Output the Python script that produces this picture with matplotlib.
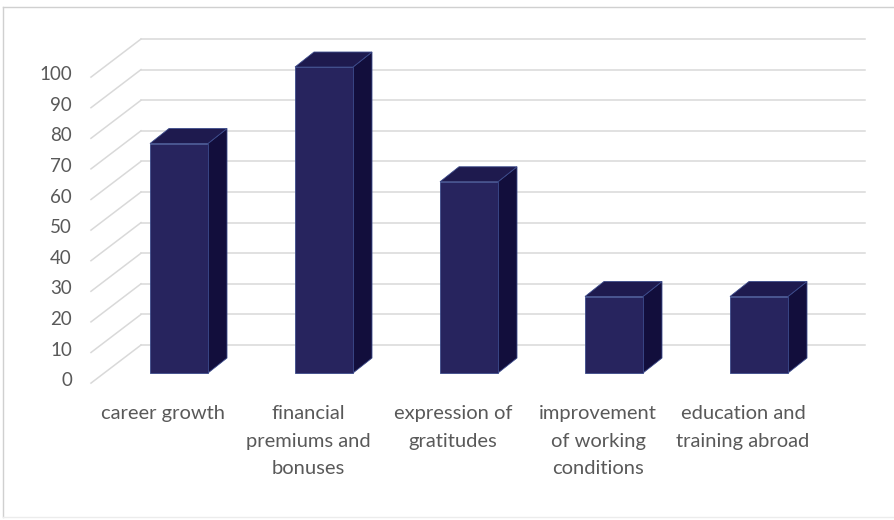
import numpy as np
import matplotlib
matplotlib.use("Agg")
import matplotlib.pyplot as plt
from matplotlib.patches import Polygon, Rectangle

plt.rcParams['font.family'] = ['Lato', 'DejaVu Sans']

categories = ['career growth', 'financial\npremiums and\nbonuses', 'expression of\ngratitudes',
              'improvement\nof working\nconditions', 'education and\ntraining abroad']
values = [75, 100, 62.5, 25, 25]
yticks = [0, 10, 20, 30, 40, 50, 60, 70, 80, 90, 100]

front_c = '#27245e'
side_c = '#120e3c'
top_c = '#1e1a4e'
edge_c = '#3b4a8a'
grid_c = '#d9d9d9'
text_c = '#595959'

fig = plt.figure(figsize=(8.95, 5.2), dpi=100)
ax = fig.add_axes([0, 0, 1, 1])
ax.set_xlim(-1.2345, 4.938)
ax.set_ylim(-48.04, 121.9)
ax.axis('off')

# 3d look: offsets in data units
half_w = 0.2
dep_x, dep_y = 0.131, 4.9          # bar depth
back_x, back_y = 0.255, 9.15       # bar front -> back wall
lab_x, lab_y = -0.09, -3.3         # bar front -> label plane
wall_left = -0.262
wall_right = 4.731

# gridlines: diagonal on the left, horizontal along the back wall
for v in yticks:
    ax.plot([wall_left + (lab_x - back_x), wall_left], [v + lab_y, v + back_y],
            color=grid_c, lw=1.1, zorder=1)
    ax.plot([wall_left, wall_right], [v + back_y, v + back_y],
            color=grid_c, lw=1.1, zorder=1)
    ax.text(-0.738, v + lab_y + 0.8, str(v), ha='right', va='center',
            fontsize=13.5, color=text_c)

for i, v in enumerate(values):
    x0, x1 = i - half_w, i + half_w
    ax.add_patch(Polygon([(x1, 0), (x1 + dep_x, dep_y), (x1 + dep_x, v + dep_y), (x1, v)],
                         closed=True, facecolor=side_c, edgecolor=edge_c, lw=0.6, zorder=3))
    ax.add_patch(Polygon([(x0, v), (x1, v), (x1 + dep_x, v + dep_y), (x0 + dep_x, v + dep_y)],
                         closed=True, facecolor=top_c, edgecolor=edge_c, lw=0.6, zorder=3))
    ax.add_patch(Rectangle((x0, 0), 2 * half_w, v, facecolor=front_c,
                           edgecolor=edge_c, lw=0.6, zorder=4))
    ax.text(i - 0.11, -10.6, categories[i], ha='center', va='top', fontsize=14.5,
            color=text_c, linespacing=1.72)

# chart frame
ax.plot([-1.2345 + 3 / 145, -1.2345 + 3 / 145], [-48.04 + 3 / 3.06, 121.9 - 7 / 3.06],
        color='#d0d0d0', lw=1)
ax.plot([-1.2345 + 3 / 145, 4.938], [121.9 - 7 / 3.06, 121.9 - 7 / 3.06],
        color='#d0d0d0', lw=1)
ax.plot([-1.2345 + 3 / 145, 4.938], [-48.04 + 3 / 3.06, -48.04 + 3 / 3.06],
        color='#ececec', lw=1)

fig.savefig('out.png', dpi=100)
